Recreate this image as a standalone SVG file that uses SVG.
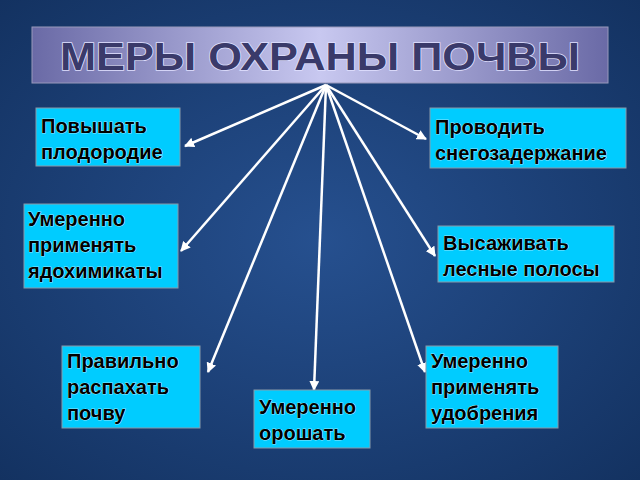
<svg xmlns="http://www.w3.org/2000/svg" width="640" height="480" viewBox="0 0 640 480">
<defs>
<radialGradient id="bg" cx="0.5" cy="0.5" r="0.75"><stop offset="0" stop-color="#26508f"/><stop offset="1" stop-color="#12305e"/></radialGradient>
<linearGradient id="tg" x1="0" y1="0" x2="1" y2="0"><stop offset="0" stop-color="#6a6aa6"/><stop offset="0.5" stop-color="#c8c8f0"/><stop offset="1" stop-color="#6a6aa6"/></linearGradient>
<marker id="ah" viewBox="0 0 10 10" refX="9" refY="5" markerWidth="4" markerHeight="4" orient="auto"><path d="M0,0 L10,5 L0,10 z" fill="#fff"/></marker>
<style>
.box{fill:#00ccff;stroke:#8899aa;stroke-width:1}
.t{font-family:"Liberation Sans",Arial,sans-serif;font-size:20px;font-weight:bold;fill:#000;stroke:#fff;stroke-width:0.6;paint-order:stroke}
.c line{stroke:#fff;stroke-width:2.5;marker-end:url(#ah)}
</style>
</defs>
<rect width="640" height="480" fill="url(#bg)"/>
<g id="title">
<rect x="32" y="27" width="576" height="56" fill="url(#tg)" stroke="#9999bb"/>
<text x="320" y="70" text-anchor="middle" textLength="520" lengthAdjust="spacingAndGlyphs" font-family="Liberation Sans,Arial,sans-serif" font-weight="bold" font-size="38" fill="#3a3a6a" stroke="#e0e0ff" stroke-width="1.5" paint-order="stroke">МЕРЫ ОХРАНЫ ПОЧВЫ</text>
</g>
<g class="c">
<line x1="326" y1="85" x2="185" y2="146"/>
<line x1="326" y1="85" x2="426" y2="139"/>
<line x1="326" y1="85" x2="181" y2="251"/>
<line x1="326" y1="85" x2="435" y2="256"/>
<line x1="326" y1="85" x2="208" y2="372"/>
<line x1="326" y1="85" x2="314" y2="390"/>
<line x1="326" y1="85" x2="425" y2="372"/>
</g>
<g id="n1"><rect class="box" x="36" y="108" width="144" height="58"/><text class="t" x="41" y="133">Повышать</text><text class="t" x="41" y="159">плодородие</text></g>
<g id="n2"><rect class="box" x="430" y="108" width="196" height="60"/><text class="t" x="435" y="134">Проводить</text><text class="t" x="435" y="160">снегозадержание</text></g>
<g id="n3"><rect class="box" x="24" y="204" width="154" height="84"/><text class="t" x="28" y="226">Умеренно</text><text class="t" x="28" y="252">применять</text><text class="t" x="28" y="278">ядохимикаты</text></g>
<g id="n4"><rect class="box" x="438" y="226" width="176" height="56"/><text class="t" x="443" y="250">Высаживать</text><text class="t" x="443" y="276">лесные полосы</text></g>
<g id="n5"><rect class="box" x="62" y="346" width="138" height="82"/><text class="t" x="67" y="368">Правильно</text><text class="t" x="67" y="394">распахать</text><text class="t" x="67" y="420">почву</text></g>
<g id="n6"><rect class="box" x="254" y="390" width="116" height="58"/><text class="t" x="259" y="414">Умеренно</text><text class="t" x="259" y="440">орошать</text></g>
<g id="n7"><rect class="box" x="426" y="346" width="132" height="82"/><text class="t" x="431" y="368">Умеренно</text><text class="t" x="431" y="394">применять</text><text class="t" x="431" y="420">удобрения</text></g>
</svg>
